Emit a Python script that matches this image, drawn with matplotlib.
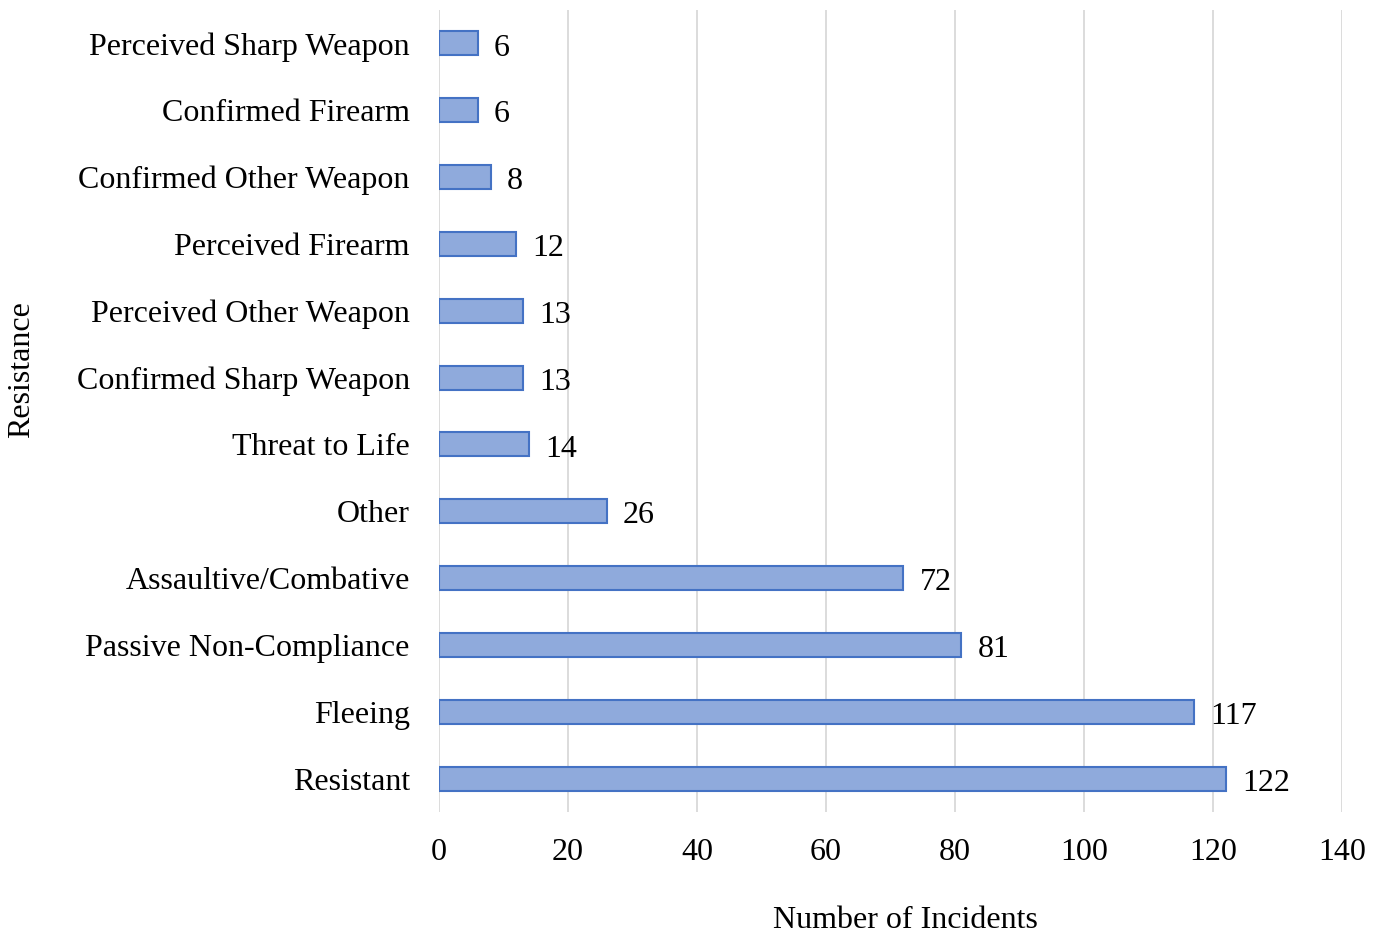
import matplotlib.pyplot as plt
import numpy as np

categorias = ["Resistant", "Fleeing", "Passive Non-Compliance", "Assaultive/Combative",
              "Other", "Threat to Life", "Confirmed Sharp Weapon", "Perceived Other Weapon",
              "Perceived Firearm", "Confirmed Other Weapon", "Confirmed Firearm",
              "Perceived Sharp Weapon"]
valores = [122, 117, 81, 72, 26, 14, 13, 13, 12, 8, 6, 6]
ticks_x = [0, 20, 40, 60, 80, 100, 120, 140]

plt.rcParams['font.family'] = ['Liberation Serif', 'DejaVu Serif']
fs = 23

fig = plt.figure(figsize=(13.83, 9.33), dpi=100)
ax = fig.add_axes([439 / 1383, 1 - 812 / 933, (1342 - 439) / 1383, (812 - 10) / 933])

y = np.arange(len(categorias))
ax.barh(y, valores, height=0.36, color='#8FAADC', edgecolor='#4472C4', linewidth=1.5, zorder=3)

# rótulos de valor
for yi, v in zip(y, valores):
    ax.text(v + 2.5, yi - 0.07, str(v), va='center', ha='left', fontsize=fs)

ax.set_xlim(0, 140)
ax.set_ylim(-0.5, len(categorias) - 0.5)
ax.set_xticks(ticks_x)
ax.set_yticks(y)
ax.set_yticklabels(categorias)
ax.tick_params(axis='y', length=0, pad=21, labelsize=fs)
ax.tick_params(axis='x', length=0, pad=19, labelsize=fs)
ax.grid(axis='x', color='#D9D9D9', linewidth=1.3, zorder=0)
for s in ax.spines.values():
    s.set_visible(False)

fig.text(905 / 1383, 1 - 921 / 933, "Number of Incidents", ha='center', va='center', fontsize=fs)
fig.text(22 / 1383, 1 - 370 / 933, "Resistance", ha='center', va='center', rotation=90, fontsize=fs)

fig.savefig("out.png", dpi=100)
